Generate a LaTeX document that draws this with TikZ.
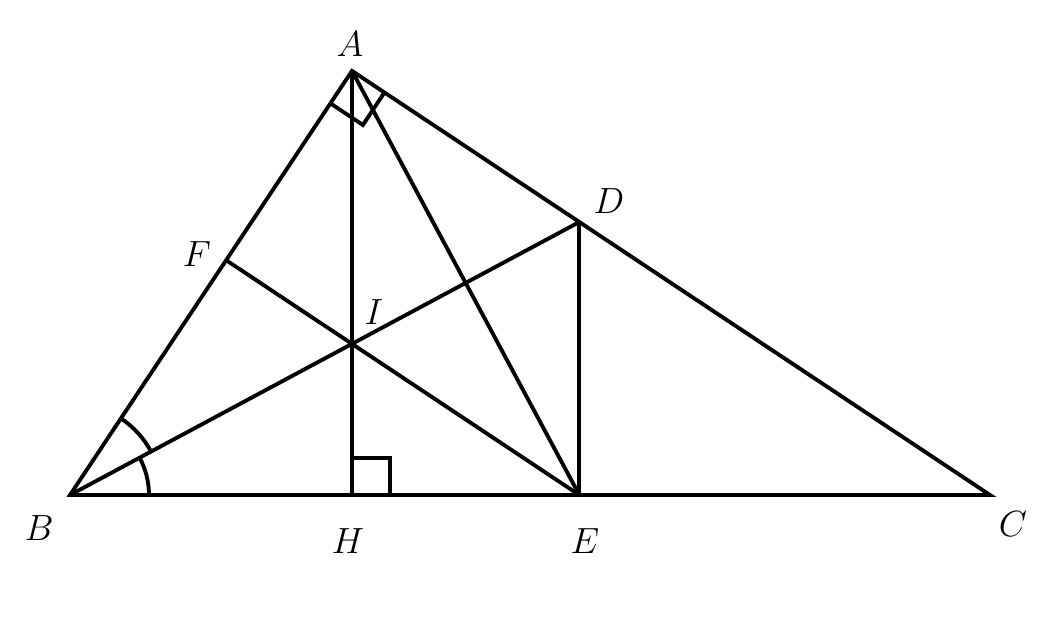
\documentclass[tikz,border=0pt]{standalone}
\usetikzlibrary{calc}
\begin{document}
\begin{tikzpicture}[x=0.02cm,y=-0.02cm,
  seg/.style={line width=2.2pt},
  lbl/.style={font=\fontsize{21}{25}\selectfont, inner sep=0pt}]
\useasboundingbox (0,0) rectangle (1048,620);
\coordinate (B) at (70,495);
\coordinate (C) at (990,495);
\coordinate (H) at (352,495);
\coordinate (A) at (352,70.9);
\coordinate (D) at ($(A)!0.3563!(C)$);
\coordinate (E) at (D |- B);
\coordinate (I) at (intersection of B--D and A--H);
\coordinate (F) at (intersection of E--I and A--B);
% triangle and segments
\draw[seg] (A) -- (B) -- (C) -- cycle;
\draw[seg] (A) -- (H);
\draw[seg] (A) -- (E);
\draw[seg] (B) -- (D);
\draw[seg] (D) -- (E);
\draw[seg] (E) -- (F);
% right angle at A
\coordinate (a1) at ($(A)!0.78cm!(B)$);
\coordinate (a2) at ($(A)!0.78cm!(C)$);
\draw[seg] (a1) -- ($(a1)+(a2)-(A)$) -- (a2);
% right angle at H
\draw[seg] ($(H)+(0,-37)$) -- ($(H)+(38,-37)$) -- ($(H)+(38,0)$);
% angle marks at B
\draw[seg] ($(B)!1.58cm!(C)$) arc[start angle=0, end angle=28.2, radius=1.58cm];
\draw[seg] let \p1=($(D)-(B)$), \p2=($(A)-(B)$), \n1={atan2(\y1,\x1)}, \n2={atan2(\y2,\x2)} in
  ($(B)!1.84cm!(D)$) arc[start angle=\n1, end angle=\n2, radius=1.84cm];
% labels
\node[lbl] (lA) at (350,44) {$A$};
\node[lbl] (lB) at (39,528) {$B$};
\node[lbl] (lC) at (1013,524) {$C$};
\node[lbl] (lD) at (609,201) {$D$};
\node[lbl] (lE) at (585,541) {$E$};
\node[lbl] (lF) at (197,254) {$F$};
\node[lbl] (lH) at (348,541) {$H$};
\node[lbl] (lI) at (374,312) {$I$};
\end{tikzpicture}
\end{document}
